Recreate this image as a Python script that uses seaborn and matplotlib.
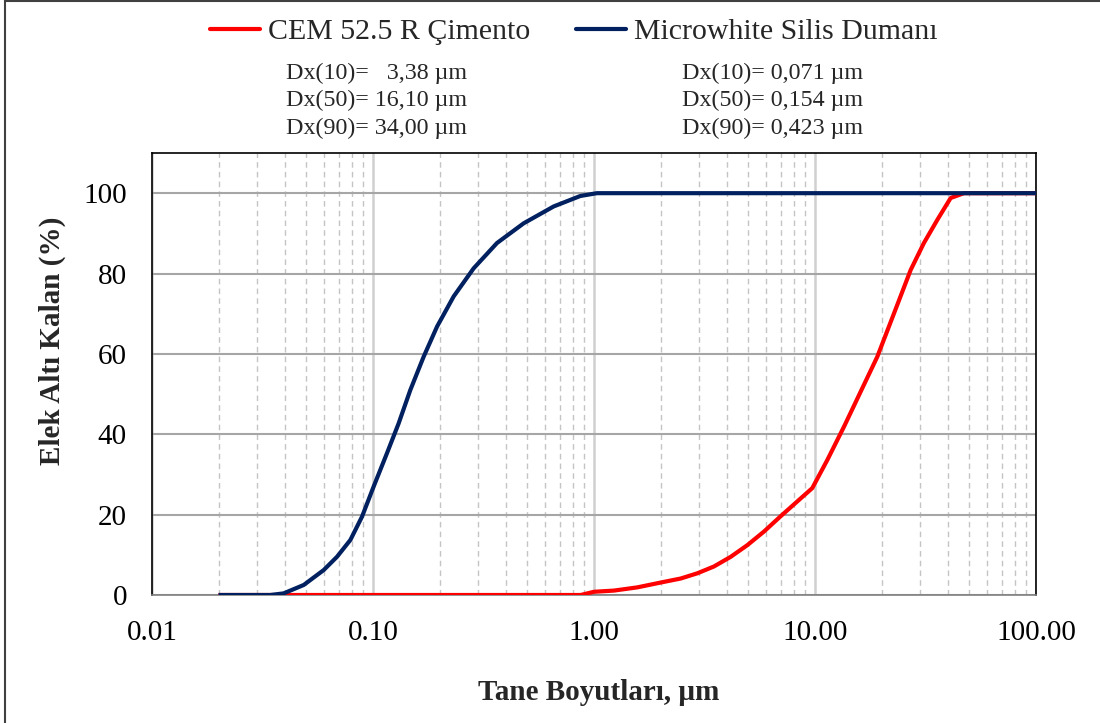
import matplotlib
matplotlib.use("Agg")
import matplotlib.pyplot as plt
import matplotlib.ticker as mticker
from matplotlib.patches import Rectangle
import numpy as np
import pandas as pd
import seaborn as sns

# Cumulative passing curves (particle size in µm, % passing)
cem_size = [0.02, 0.2, 0.87, 1.0, 1.232, 1.571, 2.003, 2.467, 2.935, 3.49, 4.154, 4.94,
            5.88, 6.99, 8.32, 9.72, 11.37, 13.53, 16.09, 19.14, 22.78, 27.1, 31.1,
            35.8, 41.1, 47.2, 100.0]
cem_pass = [0.0, 0.0, 0.0, 0.8, 1.1, 1.9, 3.1, 4.1, 5.4, 7.1, 9.5, 12.4,
            15.8, 19.6, 23.3, 26.6, 33.6, 41.9, 50.6, 59.3, 70.1, 80.9, 87.6,
            93.4, 98.8, 100.0, 100.0]

sf_size = [0.02, 0.0343, 0.0394, 0.0486, 0.0598, 0.0687, 0.0790, 0.0892, 0.1007, 0.1157,
           0.1306, 0.1475, 0.1695, 0.1949, 0.2317, 0.2854, 0.3640, 0.4805, 0.657,
           0.867, 1.03, 100.0]
sf_pass = [0.0, 0.0, 0.4, 2.5, 6.2, 9.5, 13.7, 19.5, 27.0, 35.3,
           42.7, 51.0, 59.3, 66.8, 74.3, 81.3, 87.6, 92.5, 96.7,
           99.3, 100.0, 100.0]

series_names = ["CEM 52.5 R Çimento", "Microwhite Silis Dumanı"]
series_colors = ["#FF0000", "#002060"]

cem_stats = ["Dx(10)=   3,38 µm", "Dx(50)= 16,10 µm", "Dx(90)= 34,00 µm"]
sf_stats = ["Dx(10)= 0,071 µm", "Dx(50)= 0,154 µm", "Dx(90)= 0,423 µm"]

x_ticks = [0.01, 0.1, 1, 10, 100]
x_tick_labels = ["0.01", "0.10", "1.00", "10.00", "100.00"]
y_ticks = [0, 20, 40, 60, 80, 100]

df = pd.concat([
    pd.DataFrame({"size": cem_size, "passing": cem_pass, "series": series_names[0]}),
    pd.DataFrame({"size": sf_size, "passing": sf_pass, "series": series_names[1]}),
], ignore_index=True)

sns.set_style("white")
plt.rcParams["font.family"] = ["Liberation Serif", "DejaVu Serif"]

W, H = 1100, 723
fig = plt.figure(figsize=(W / 100, H / 100), dpi=100)
ax = fig.add_axes([152 / W, 1 - 595 / H, (1036 - 152) / W, (595 - 153) / H])

ax.set_xscale("log")
ax.set_xlim(0.01, 100)
ax.set_ylim(0, 110)

# grid: decade lines solid, minor lines dashed, horizontal lines at y ticks
ax.set_xticks(x_ticks)
ax.xaxis.set_minor_locator(mticker.LogLocator(base=10, subs=np.arange(2, 10)))
ax.xaxis.set_minor_formatter(mticker.NullFormatter())
ax.grid(True, which="major", axis="x", color="#D0D0D0", linewidth=1.8, zorder=0)
ax.grid(True, which="minor", axis="x", color="#C4C4C4", linewidth=1.0,
        linestyle=(0, (4, 3)), zorder=0)
ax.set_yticks(y_ticks)
ax.grid(True, which="major", axis="y", color="#A6A6A6", linewidth=1.5, zorder=0)
ax.set_axisbelow(True)

sns.lineplot(data=df, x="size", y="passing", hue="series", hue_order=series_names,
             palette=series_colors, estimator=None, sort=False, linewidth=3.0,
             legend=False, ax=ax, zorder=3)
for ln in ax.lines:
    ln.set_solid_joinstyle("round")
    ln.set_solid_capstyle("butt")

ax.set_xticklabels(x_tick_labels)
ax.tick_params(axis="both", which="both", length=0, labelsize=21, colors="black")
ax.tick_params(axis="x", pad=18)
ax.tick_params(axis="y", pad=18)

for side in ["left", "top", "right"]:
    ax.spines[side].set_color("black")
    ax.spines[side].set_linewidth(1.2)
ax.spines["bottom"].set_color("#808080")
ax.spines["bottom"].set_linewidth(1.2)
ax.spines["bottom"].set_linestyle((0, (1, 1)))

ax.set_xlabel("Tane Boyutları, µm", fontsize=21, fontweight="bold")
ax.set_ylabel("Elek Altı Kalan (%)", fontsize=21, fontweight="bold")
ax.xaxis.set_label_coords(0.505, -0.19)
ax.yaxis.set_label_coords(-0.097, 0.575)

# legend across the top
handles = [plt.Line2D([], [], color=c, linewidth=3.0) for c in series_colors]
fig.legend(handles, series_names, loc="center", ncol=2, frameon=False,
           bbox_to_anchor=(574 / W, 1 - 32 / H), fontsize=21.5,
           handlelength=1.67, handletextpad=0.27, columnspacing=1.54)

# particle size statistics under each legend entry
for i, (a, b) in enumerate(zip(cem_stats, sf_stats)):
    yy = 1 - (73 + 27.5 * i) / H
    fig.text(286 / W, yy, a, fontsize=17.3, va="center", ha="left")
    fig.text(682 / W, yy, b, fontsize=17.3, va="center", ha="left")

# outer frame of the figure
fig.patches.append(Rectangle((5 / W, -0.1), 1.2, 1.1 - 1.5 / H,
                             transform=fig.transFigure, fill=False,
                             edgecolor="#404040", linewidth=1.5))

fig.savefig("out.png", dpi=100)
